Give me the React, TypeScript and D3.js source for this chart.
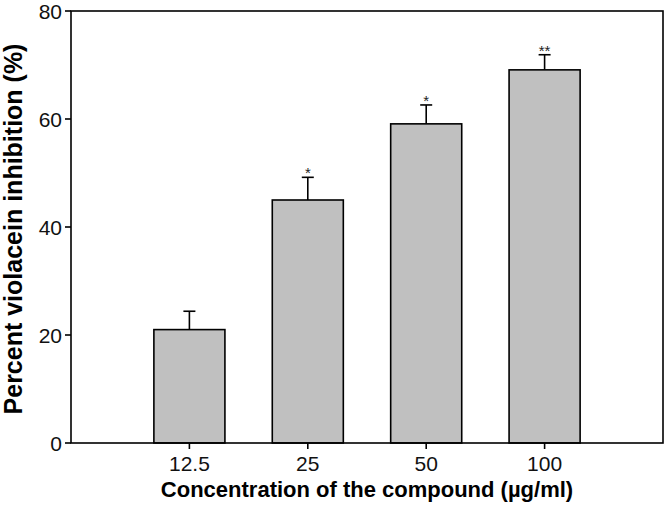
import React from 'react';
import * as d3 from 'd3';

const categories = ['12.5', '25', '50', '100'];
const means = [21, 45, 59.1, 69.1];
const errors = [3.4, 4.2, 3.5, 2.8];
const marks = ['', '*', '*', '**'];
const yTicks = [0, 20, 40, 60, 80];

const W = 665;
const H = 511;
const margin = { top: 11, right: 2, bottom: 68, left: 71 };

const App = () => {
  const left = margin.left;
  const right = W - margin.right;
  const top = margin.top;
  const bottom = H - margin.bottom;

  const x = d3.scaleBand()
    .domain(categories)
    .range([left, right])
    .paddingInner(0.4)
    .paddingOuter(0.7);

  const y = d3.scaleLinear()
    .domain([0, 80])
    .range([bottom, top]);

  const font = 'Arial, "Liberation Sans", Helvetica, sans-serif';
  const bw = x.bandwidth();

  return (
    <svg width={W} height={H} style={{ position: 'absolute', left: 0, top: 0 }} fontFamily={font}>
      <rect x={0} y={0} width={W} height={H} fill="#fff" />

      {/* bars */}
      {categories.map((c, i) => {
        const x0 = x(c) as number;
        const cx = x0 + bw / 2;
        const yTop = y(means[i]);
        const yErr = y(means[i] + errors[i]);
        return (
          <g key={c}>
            <line x1={cx} x2={cx} y1={yTop} y2={yErr} stroke="#000" strokeWidth={1.6} />
            <line x1={cx - 6} x2={cx + 6} y1={yErr} y2={yErr} stroke="#000" strokeWidth={1.6} />
            <rect x={x0} y={yTop} width={bw} height={bottom - yTop}
              fill="#c0c0c0" stroke="#000" strokeWidth={1.6} />
            {marks[i] && (
              <text x={cx} y={yErr + 1} textAnchor="middle" fontSize={15} fill="#222">{marks[i]}</text>
            )}
          </g>
        );
      })}

      {/* frame */}
      <rect x={left} y={top} width={right - left} height={bottom - top}
        fill="none" stroke="#000" strokeWidth={1.6} />

      {/* y axis */}
      {yTicks.map(t => (
        <g key={t}>
          <line x1={left - 6} x2={left} y1={y(t)} y2={y(t)} stroke="#000" strokeWidth={1.6} />
          <text x={left - 9} y={y(t)} dy="0.36em" textAnchor="end" fontSize={21} fill="#111">{t}</text>
        </g>
      ))}

      {/* x axis */}
      {categories.map(c => {
        const cx = (x(c) as number) + bw / 2;
        return (
          <g key={c}>
            <line x1={cx} x2={cx} y1={bottom} y2={bottom + 6} stroke="#000" strokeWidth={1.6} />
            <text x={cx} y={471} textAnchor="middle" fontSize={21} fill="#111">{c}</text>
          </g>
        );
      })}

      <text x={367} y={497} textAnchor="middle" fontSize={22} fontWeight="bold" fill="#000">
        Concentration of the compound (µg/ml)
      </text>
      <text transform={`translate(22,${(top + bottom) / 2 + 2}) rotate(-90)`} textAnchor="middle"
        fontSize={25} fontWeight="bold" fill="#000">
        Percent violacein inhibition (%)
      </text>
    </svg>
  );
};

export default App;
